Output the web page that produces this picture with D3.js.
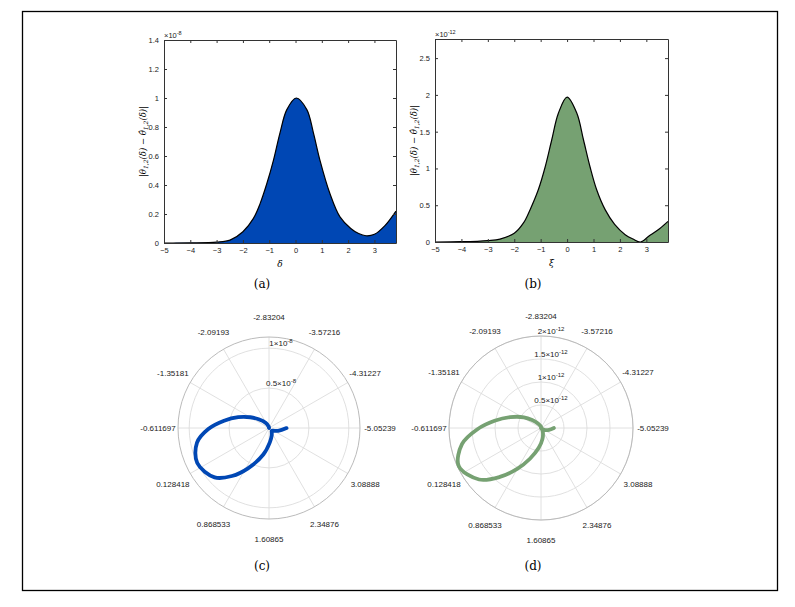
<!DOCTYPE html>
<html><head><meta charset="utf-8">
<script src="https://cdn.jsdelivr.net/npm/d3@7"></script>
<style>body{margin:0;background:#fff}svg text{font-family:Arial,"Liberation Sans","DejaVu Sans",sans-serif}svg text.serif{font-family:"DejaVu Serif",serif}</style>
</head><body><svg id="c" width="795" height="607"></svg>
<script>
const deltaA=[-5,-4,-3,-2.49,-2,-1.6,-1.35,-1.09,-0.84,-0.59,-0.33,0.03,0.43,0.68,0.93,1.31,1.69,2.1,2.4,2.68,3,3.4,3.82];
const errA=[0,0.001,0.006,0.02,0.078,0.17,0.27,0.41,0.57,0.76,0.92,1.0,0.92,0.76,0.57,0.34,0.18,0.1,0.065,0.05,0.06,0.12,0.22];
const deltaB=[-5,-4,-3,-2.54,-2,-1.65,-1.4,-1.09,-0.83,-0.58,-0.33,0,0.37,0.62,0.87,1.12,1.44,1.8,2.2,2.5,2.78,3.1,3.5,3.82];
const errB=[0,0.004,0.02,0.04,0.12,0.26,0.44,0.71,1.02,1.39,1.75,1.97,1.75,1.39,1.02,0.71,0.44,0.24,0.1,0.04,0,0.08,0.18,0.28];
const xTicks=[-5,-4,-3,-2,-1,0,1,2,3];
const yTicksA=[0,0.2,0.4,0.6,0.8,1,1.2,1.4];
const yTicksB=[0,0.5,1,1.5,2,2.5];
const angleLabels=["-2.83204","-2.09193","-1.35181","-0.611697","0.128418","0.868533","1.60865","2.34876","3.08888","-5.05239","-4.31227","-3.57216"];
const ringsC=[0.5,1], ringLabC=["0.5","1"];
const ringsD=[0.5,1,1.5,2], ringLabD=["0.5","1","1.5","2"];
const blue="#0047b4", green="#76a172";

const svg=d3.select("#c");
svg.append("rect").attr("x",22.5).attr("y",11.5).attr("width",755).attr("height",579).attr("fill","none").attr("stroke","#000").attr("stroke-width",1.3);

function cart(o){
  const x=d3.scaleLinear().domain([-5,3.82]).range([o.x0,o.x1]);
  const y=d3.scaleLinear().domain([0,o.ymax]).range([o.y1,o.y0]);
  const g=svg.append("g");
  const data=o.d.map((d,i)=>[d,o.v[i]]);
  const cv=d3.curveCatmullRom.alpha(0.5);
  g.append("path").datum(data).attr("fill",o.col)
    .attr("d",d3.area().x(d=>x(d[0])).y0(y(0)).y1(d=>y(d[1])).curve(cv));
  g.append("path").datum(data).attr("fill","none").attr("stroke","#000").attr("stroke-width",1.2)
    .attr("d",d3.line().x(d=>x(d[0])).y(d=>y(d[1])).curve(cv));
  const ax=(gen,tr)=>g.append("g").attr("transform",tr).call(gen).call(s=>{s.select(".domain").attr("stroke","#333");s.selectAll("text").attr("font-size",7.5).attr("fill","#222");s.selectAll("line").attr("stroke","#333");});
  ax(d3.axisBottom(x).tickValues(xTicks).tickSize(-3).tickPadding(5).tickSizeOuter(0),`translate(0,${o.y1})`);
  ax(d3.axisTop(x).tickValues(xTicks).tickSize(-3).tickFormat("").tickSizeOuter(0),`translate(0,${o.y0})`);
  ax(d3.axisLeft(y).tickValues(o.yt).tickSize(-3).tickPadding(5).tickSizeOuter(0).tickFormat(d3.format("")),`translate(${o.x0},0)`);
  ax(d3.axisRight(y).tickValues(o.yt).tickSize(-3).tickFormat("").tickSizeOuter(0),`translate(${o.x1},0)`);
  const e=g.append("text").attr("x",o.x0).attr("y",o.y0-2).attr("font-size",7.5).attr("fill","#222");
  e.append("tspan").text("×10");
  e.append("tspan").attr("dy",-3).attr("font-size",5.5).text(o.exp);
  const yl=g.append("text").attr("class","serif").attr("transform",`translate(${o.x0-18},${(o.y0+o.y1)/2}) rotate(-90)`).attr("text-anchor","middle").attr("font-size",8.5).attr("font-style","italic");
  yl.append("tspan").text("|θ");
  yl.append("tspan").attr("dy",2).attr("font-size",6).text("1,2");
  yl.append("tspan").attr("dy",-2).text("(δ) − θ̂");
  yl.append("tspan").attr("dy",2).attr("font-size",6).text("1,2");
  yl.append("tspan").attr("dy",-2).text("(δ)|");
  g.append("text").attr("class","serif").attr("x",(o.x0+o.x1)/2).attr("y",o.y1+24).attr("text-anchor","middle").attr("font-size",9).attr("font-style","italic").text(o.xl);
}
cart({x0:164,x1:396,y0:40,y1:243,ymax:1.4,yt:yTicksA,d:deltaA,v:errA,col:blue,exp:"-8",xl:"δ"});
cart({x0:435,x1:668,y0:39,y1:242,ymax:2.76,yt:yTicksB,d:deltaB,v:errB,col:green,exp:"-12",xl:"ξ"});

function polar(o){
  const g=svg.append("g");
  const r=d3.scaleLinear().domain([0,o.rmax]).range([0,o.R]);
  const ang=d=>(90+(d+0.611697)/0.740115*30)*Math.PI/180;
  const pt=(a,rr)=>[o.cx-rr*Math.sin(a),o.cy-rr*Math.cos(a)];
  angleLabels.forEach((t,i)=>{
    const a=i*30*Math.PI/180;
    const p=pt(a,o.R);
    g.append("line").attr("x1",o.cx).attr("y1",o.cy).attr("x2",p[0]).attr("y2",p[1]).attr("stroke","#ddd").attr("stroke-width",0.9);
    const q=pt(a,o.R+20);
    g.append("text").attr("x",q[0]).attr("y",q[1]+3).attr("text-anchor","middle").attr("font-size",8).attr("fill","#222").text(t);
  });
  o.rings.forEach(v=>g.append("circle").attr("cx",o.cx).attr("cy",o.cy).attr("r",r(v)).attr("fill","none").attr("stroke","#ddd").attr("stroke-width",0.9));
  g.append("circle").attr("cx",o.cx).attr("cy",o.cy).attr("r",o.R).attr("fill","none").attr("stroke","#bbb").attr("stroke-width",1);
  o.rings.forEach((v,i)=>{
    const t=g.append("text").attr("x",o.cx+o.lx).attr("y",o.cy-r(v)-2).attr("text-anchor","middle").attr("font-size",8).attr("fill","#222");
    t.append("tspan").text(o.rl[i]+"×10");
    t.append("tspan").attr("dy",-3).attr("font-size",6).text(o.exp);
  });
  const data=o.d.map((d,i)=>[ang(d),r(o.v[i])]);
  g.append("path").datum(data).attr("fill","none").attr("stroke",o.col).attr("stroke-width",3.8).attr("stroke-linecap","round")
    .attr("d",d3.line().x(d=>pt(d[0],d[1])[0]).y(d=>pt(d[0],d[1])[1]).curve(d3.curveCatmullRom));
}
polar({cx:269,cy:428,R:91,rmax:1.14,rings:ringsC,rl:ringLabC,exp:"-8",d:deltaA,v:errA,col:blue,lx:12});
polar({cx:541,cy:428,R:92,rmax:2,rings:ringsD,rl:ringLabD,exp:"-12",d:deltaB,v:errB,col:green,lx:10});

[["(a)",262,288],["(b)",533,288],["(c)",262,570],["(d)",533,570]].forEach(([t,x,y])=>
  svg.append("text").attr("class","serif").attr("x",x).attr("y",y).attr("text-anchor","middle").attr("font-size",12).text(t));
</script></body></html>
